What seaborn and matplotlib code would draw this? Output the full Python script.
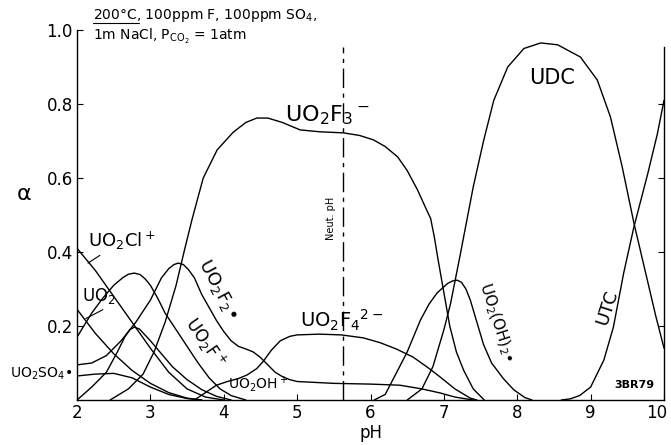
import seaborn as sns
import matplotlib.pyplot as plt
import matplotlib.transforms as mtransforms
import pandas as pd

# species fractions (alpha) vs pH
ph_cl = [2.0, 2.25, 2.5, 2.75, 3.0, 3.25, 3.5, 3.75, 4.0]
a_cl = [0.41, 0.35, 0.28, 0.21, 0.14, 0.075, 0.03, 0.008, 0.0]

ph_uo2 = [2.0, 2.25, 2.5, 2.75, 3.0, 3.25, 3.5, 3.7]
a_uo2 = [0.245, 0.18, 0.125, 0.08, 0.045, 0.02, 0.005, 0.0]

ph_so4 = [2.0, 2.25, 2.5, 2.75, 3.0, 3.25, 3.5, 3.7]
a_so4 = [0.065, 0.07, 0.072, 0.06, 0.035, 0.015, 0.004, 0.0]

ph_f1 = [2.0, 2.2, 2.35, 2.5, 2.62, 2.7, 2.78, 2.86, 2.93, 3.0, 3.1, 3.2, 3.35, 3.5, 3.65, 3.8, 3.95, 4.1, 4.3]
a_f1 = [0.17, 0.235, 0.275, 0.31, 0.33, 0.34, 0.343, 0.339, 0.327, 0.31, 0.275, 0.235, 0.19, 0.145, 0.1, 0.06, 0.03, 0.012, 0.0]

ph_b = [2.0, 2.2, 2.4, 2.55, 2.65, 2.72, 2.78, 2.85, 3.0, 3.15, 3.3, 3.5, 3.7, 3.9, 4.1]
a_b = [0.0, 0.035, 0.075, 0.13, 0.17, 0.19, 0.197, 0.192, 0.16, 0.125, 0.09, 0.055, 0.028, 0.01, 0.0]

ph_f2 = [2.0, 2.2, 2.4, 2.6, 2.8, 3.0, 3.15, 3.25, 3.32, 3.38, 3.45, 3.52, 3.6, 3.7, 3.8, 3.9, 4.0,
         4.1, 4.2, 4.3, 4.4, 4.5, 4.6, 4.7, 4.8, 4.9, 5.0, 5.5, 6.0, 6.4, 6.7, 6.95, 7.15, 7.4]
a_f2 = [0.095, 0.1, 0.12, 0.16, 0.21, 0.27, 0.33, 0.355, 0.366, 0.37, 0.366, 0.352, 0.33, 0.285, 0.25, 0.215, 0.185,
        0.16, 0.145, 0.138, 0.13, 0.115, 0.095, 0.075, 0.063, 0.055, 0.05, 0.045, 0.043, 0.04, 0.03, 0.019, 0.008, 0.0]

ph_f3 = [2.45, 2.7, 2.9, 3.05, 3.2, 3.35, 3.47, 3.57, 3.72, 3.91, 4.13, 4.3, 4.45, 4.6, 4.8, 5.04,
         5.3, 5.63, 5.85, 6.04, 6.2, 6.37, 6.5, 6.64, 6.75, 6.82, 6.87, 6.92, 7.0, 7.08, 7.17, 7.27, 7.4, 7.55]
a_f3 = [0.0, 0.03, 0.07, 0.13, 0.21, 0.31, 0.41, 0.49, 0.6, 0.676, 0.724, 0.75, 0.762, 0.762, 0.75, 0.73,
        0.725, 0.722, 0.715, 0.703, 0.685, 0.657, 0.62, 0.568, 0.52, 0.49, 0.44, 0.38, 0.29, 0.2, 0.13, 0.08, 0.03, 0.0]

ph_f4 = [3.6, 3.75, 3.9, 4.05, 4.2, 4.32, 4.45, 4.54, 4.65, 4.77, 4.9, 5.0, 5.3, 5.6, 5.9,
         6.13, 6.35, 6.58, 6.8, 6.95, 7.15, 7.36, 7.45]
a_f4 = [0.0, 0.02, 0.04, 0.05, 0.058, 0.068, 0.085, 0.105, 0.135, 0.16, 0.172, 0.176, 0.178, 0.176, 0.168,
        0.155, 0.138, 0.116, 0.085, 0.062, 0.03, 0.005, 0.0]

ph_oh2 = [6.05, 6.2, 6.37, 6.5, 6.68, 6.8, 6.91, 7.05, 7.12, 7.18, 7.24, 7.3, 7.36, 7.45, 7.54, 7.65, 7.81, 7.95, 8.1, 8.2]
a_oh2 = [0.0, 0.015, 0.08, 0.13, 0.216, 0.26, 0.29, 0.315, 0.322, 0.324, 0.318, 0.3, 0.27, 0.21, 0.15, 0.1, 0.058, 0.028, 0.007, 0.0]

ph_udc = [6.5, 6.7, 6.85, 7.0, 7.09, 7.22, 7.4, 7.54, 7.68, 7.87, 8.09, 8.32, 8.55, 8.86,
          9.09, 9.27, 9.43, 9.59, 9.75, 9.89, 10.0]
a_udc = [0.0, 0.03, 0.09, 0.19, 0.26, 0.39, 0.576, 0.70, 0.81, 0.90, 0.95, 0.965, 0.96, 0.927,
         0.865, 0.765, 0.63, 0.478, 0.343, 0.225, 0.14]

ph_utc = [8.6, 8.72, 8.85, 9.0, 9.18, 9.31, 9.45, 9.59, 9.78, 9.91, 10.0]
a_utc = [0.0, 0.003, 0.012, 0.035, 0.108, 0.197, 0.343, 0.468, 0.613, 0.72, 0.81]

neutral_ph = 5.63
x_ticks = [2, 3, 4, 5, 6, 7, 8, 9, 10]
y_ticks = [0.2, 0.4, 0.6, 0.8, 1.0]

series = {
    'UO2Cl+': (ph_cl, a_cl), 'UO2++': (ph_uo2, a_uo2), 'UO2SO4': (ph_so4, a_so4),
    'UO2F+': (ph_f1, a_f1), 'B': (ph_b, a_b), 'UO2F2': (ph_f2, a_f2),
    'UO2F3-': (ph_f3, a_f3), 'UO2F4 2-': (ph_f4, a_f4), 'UO2(OH)2': (ph_oh2, a_oh2),
    'UDC': (ph_udc, a_udc), 'UTC': (ph_utc, a_utc),
}
rows = []
for name, (xs, ys) in series.items():
    for x, y in zip(xs, ys):
        rows.append({'species': name, 'pH': x, 'alpha': y})
df = pd.DataFrame(rows)

sns.set_style("ticks")
plt.rcParams['font.family'] = ['DejaVu Sans']
plt.rcParams.update({'text.color': 'black', 'axes.labelcolor': 'black',
                     'xtick.color': 'black', 'ytick.color': 'black'})

fig = plt.figure(figsize=(6.71, 4.45), dpi=100)
ax = fig.add_axes([0.1148, 0.1011, 0.8748, 0.8315])

sns.lineplot(data=df, x='pH', y='alpha', hue='species', estimator=None,
             palette={k: 'black' for k in series}, legend=False, linewidth=1.0, ax=ax)

# neutral pH marker
ax.axvline(neutral_ph, ymax=0.955, color='black', lw=1.0, ls=(0, (14, 4, 3, 4)))
ax.text(neutral_ph - 0.17, 0.49, 'Neut. pH', rotation=90, fontsize=7, ha='center', va='center')

ax.set_xlim(2, 10)
ax.set_ylim(0, 1.0)
ax.set_xticks(x_ticks)
ax.set_yticks(y_ticks)
ax.set_yticklabels([f'{v:.1f}' for v in y_ticks])
ax.tick_params(direction='in', length=4, width=0.8, labelsize=12, pad=3, right=True)
ax.yaxis.get_major_ticks()[-1].tick2line.set_visible(False)

# pull the last x label ("10") a little inside the figure edge
last = ax.get_xticklabels()[-1]
last.set_transform(last.get_transform() + mtransforms.ScaledTranslation(-5 / 72, 0, fig.dpi_scale_trans))

ax.spines['top'].set_visible(False)
ax.spines['right'].set_bounds(0, 0.955)
for s in ['left', 'right', 'bottom']:
    ax.spines[s].set_linewidth(1.0)
    ax.spines[s].set_color('black')

ax.set_xlabel('pH', fontsize=12, labelpad=1)
ax.set_ylabel('α', fontsize=16, rotation=0)
ax.yaxis.set_label_coords(-0.09, 0.53)

# header
ax.text(2.22, 1.04, r'200°C, 100ppm F, 100ppm SO$_4$,', fontsize=10, ha='left', va='center', clip_on=False)
ax.text(2.22, 0.983, r'1m NaCl, P$_{\mathrm{CO_2}}$ = 1atm', fontsize=10, ha='left', va='center', clip_on=False)
ax.plot([2.22, 2.85], [1.02, 1.02], color='black', lw=0.8, clip_on=False)

# species labels
ax.text(5.41, 0.77, r'UO$_2$F$_3$$^-$', fontsize=16, ha='center', va='center')
ax.text(8.48, 0.87, 'UDC', fontsize=15, ha='center', va='center')
ax.text(9.23, 0.25, 'UTC', fontsize=13, ha='center', va='center', rotation=72)
ax.text(5.6, 0.215, r'UO$_2$F$_4$$^{2-}$', fontsize=14, ha='center', va='center')
ax.text(4.47, 0.042, r'UO$_2$OH$^+$', fontsize=10, ha='center', va='center')
ax.text(7.72, 0.21, r'UO$_2$(OH)$_2$•', fontsize=11, ha='center', va='center', rotation=-72)
ax.text(3.92, 0.3, r'UO$_2$F$_2$•', fontsize=13, ha='center', va='center', rotation=-62)
ax.text(3.75, 0.155, r'UO$_2$F$^+$', fontsize=12, ha='center', va='center', rotation=-55)
ax.annotate(r'UO$_2$Cl$^+$', xy=(2.15, 0.37), xytext=(2.15, 0.43), fontsize=13,
            ha='left', va='center', arrowprops=dict(arrowstyle='-', color='black', lw=0.8,
                                                    shrinkA=0, shrinkB=0, relpos=(0.25, 0)))
ax.annotate(r'UO$_2$', xy=(2.12, 0.22), xytext=(2.07, 0.28), fontsize=12,
            ha='left', va='center', arrowprops=dict(arrowstyle='-', color='black', lw=0.8,
                                                    shrinkA=0, shrinkB=0, relpos=(0.8, 0)))
ax.text(1.94, 0.07, r'UO$_2$SO$_4$•', fontsize=10, ha='right', va='center', clip_on=False)
ax.text(9.6, 0.04, '3BR79', fontsize=8, fontweight='bold', ha='center', va='center')

fig.savefig('out.png', dpi=100)
